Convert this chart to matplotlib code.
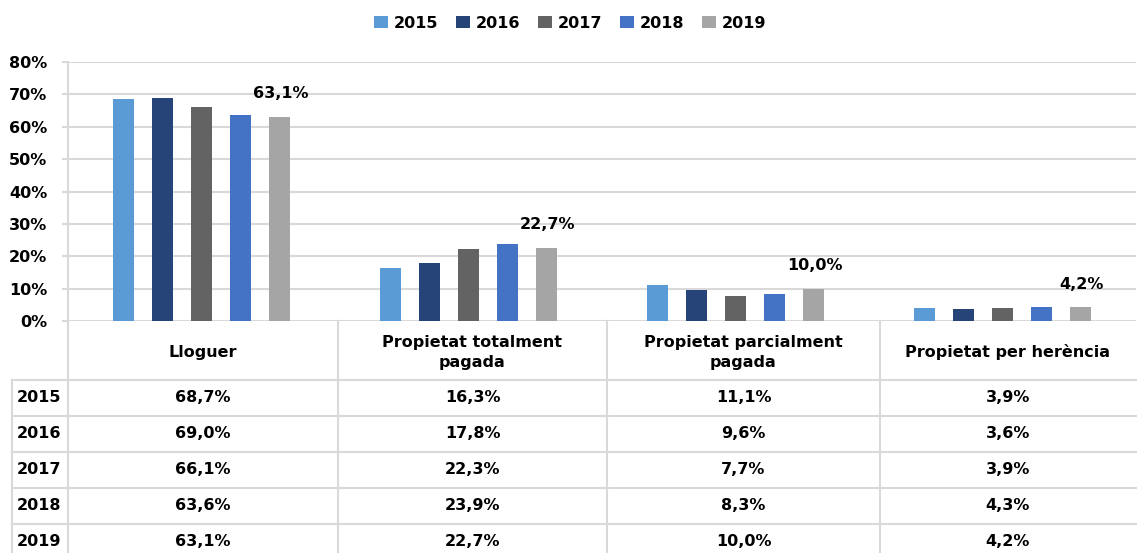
import matplotlib
matplotlib.use("Agg")
import matplotlib.pyplot as plt
from matplotlib.patches import Patch
import numpy as np

plt.rcParams['font.family'] = ['DejaVu Sans']
plt.rcParams['font.weight'] = 'bold'

categories = ["Lloguer", "Propietat totalment\npagada", "Propietat parcialment\npagada", "Propietat per herència"]
years = ["2015", "2016", "2017", "2018", "2019"]
v2015 = [68.7, 16.3, 11.1, 3.9]
v2016 = [69.0, 17.8, 9.6, 3.6]
v2017 = [66.1, 22.3, 7.7, 3.9]
v2018 = [63.6, 23.9, 8.3, 4.3]
v2019 = [63.1, 22.7, 10.0, 4.2]
series = [v2015, v2016, v2017, v2018, v2019]
colors = ["#5B9BD5", "#264478", "#636363", "#4472C4", "#A5A5A5"]
yticks = [0, 10, 20, 30, 40, 50, 60, 70, 80]

W, H = 1138, 553
FS = 11.5
fig = plt.figure(figsize=(W / 100, H / 100), dpi=100)

# plot area in pixels
px_l, px_r, px_t, px_b = 68, 1136, 62, 321
ax = fig.add_axes([px_l / W, 1 - px_b / H, (px_r - px_l) / W, (px_b - px_t) / H])
ax.set_xlim(0, len(categories))
ax.set_ylim(0, 80)

grid_c = "#D9D9D9"
n = len(categories)
x = np.arange(n) + 0.5
bw = 0.079
step = 0.146
for j, (vals, c) in enumerate(zip(series, colors)):
    ax.bar(x + (j - 2) * step, vals, width=bw, color=c, zorder=3, label=years[j])

# labels for 2019
for i, v in enumerate(v2019):
    ax.annotate(f"{v:.1f}%".replace(".", ","), (x[i] + 2 * step, v), xytext=(1, 11),
                textcoords="offset points", ha="center", va="bottom", fontsize=FS,
                fontweight="bold", color="black")

ax.set_yticks(yticks)
ax.set_yticklabels([f"{t}%" for t in yticks], fontsize=FS, fontweight="bold")
ax.yaxis.grid(True, color=grid_c, linewidth=1.5, zorder=0)
ax.set_xticks([])
for s in ["top", "right", "bottom"]:
    ax.spines[s].set_visible(False)
ax.spines["left"].set_color(grid_c)
ax.spines["left"].set_linewidth(1.5)
ax.tick_params(axis="y", length=4.5, color=grid_c, width=1.5, pad=10.5)

# table overlay in pixel coordinates
at = fig.add_axes([0, 0, 1, 1])
at.set_xlim(0, W)
at.set_ylim(H, 0)
at.axis("off")
at.patch.set_visible(False)

col_edges = [68, 338, 607, 880, 1136]
row_left = 12
header_bottom = 380
row_h = 36
lw = 1.5
for xe in col_edges[:-1]:
    at.plot([xe, xe], [px_b, H], color=grid_c, lw=lw)
at.plot([row_left, row_left], [header_bottom, H], color=grid_c, lw=lw)
for r in range(len(years)):
    y = header_bottom + r * row_h
    at.plot([row_left, col_edges[-1]], [y, y], color=grid_c, lw=lw)

for i, cat in enumerate(categories):
    cx = (col_edges[i] + col_edges[i + 1]) / 2
    at.text(cx, (px_b + header_bottom) / 2 + 2, cat, ha="center", va="center",
            fontsize=FS, fontweight="bold", linespacing=1.35)

for r, (yr, vals) in enumerate(zip(years, series)):
    cy = header_bottom + r * row_h + row_h / 2
    at.text(row_left + 5, cy, yr, ha="left", va="center", fontsize=FS, fontweight="bold")
    for i, v in enumerate(vals):
        cx = (col_edges[i] + col_edges[i + 1]) / 2
        at.text(cx, cy, f"{v:.1f}%".replace(".", ","), ha="center", va="center",
                fontsize=FS, fontweight="bold")

handles = [Patch(facecolor=c, label=y) for c, y in zip(colors, years)]
fig.legend(handles=handles, loc="center", bbox_to_anchor=(570 / W, 1 - 23 / H), ncol=5,
           frameon=False, handlelength=0.85, handleheight=0.85,
           handletextpad=0.35, columnspacing=1.15, prop={"weight": "bold", "size": FS})

fig.savefig("out.png", dpi=100)
